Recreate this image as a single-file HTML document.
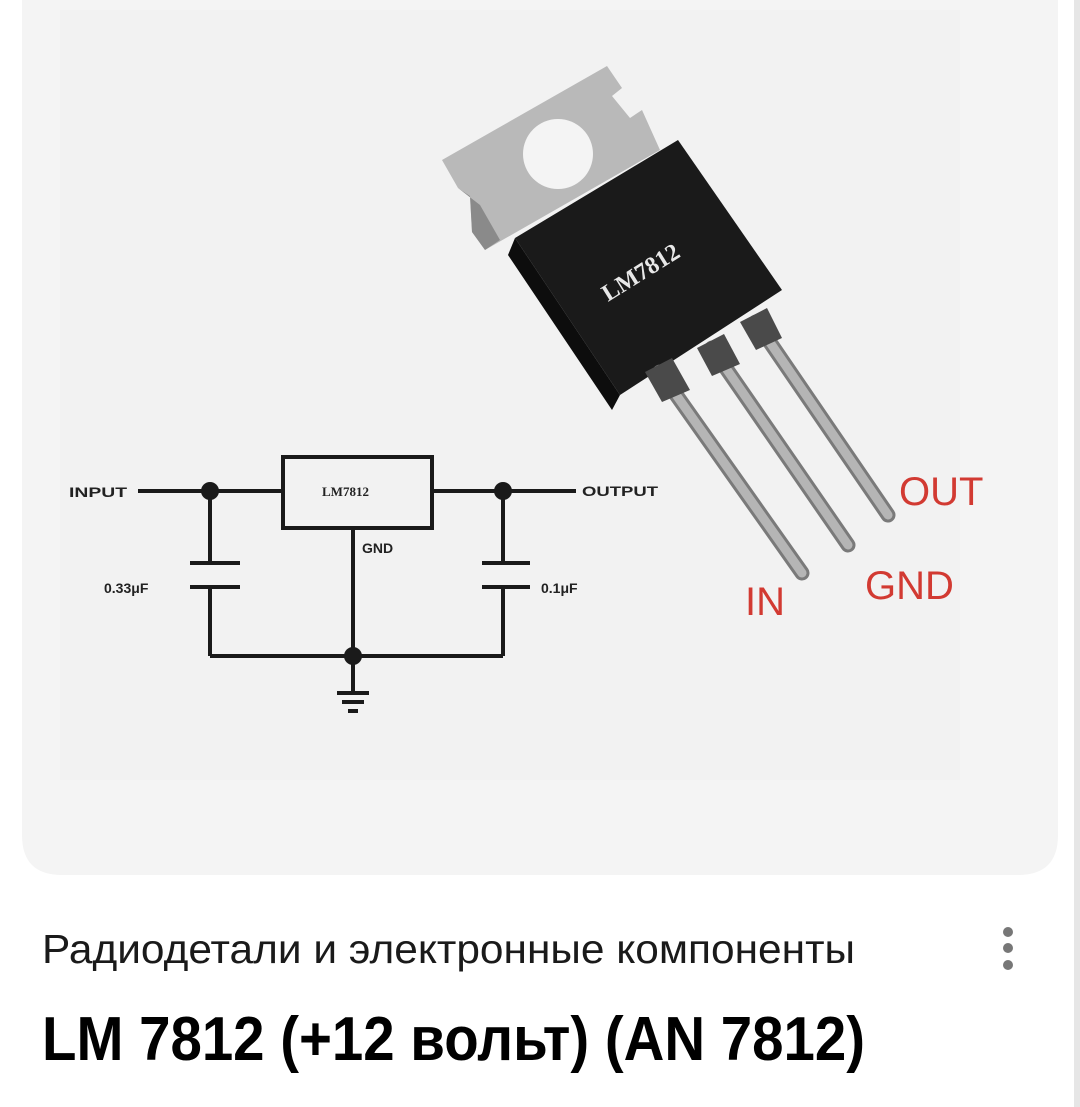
<!DOCTYPE html>
<html><head><meta charset="utf-8"><style>
html,body{margin:0;padding:0;background:#fff;width:1080px;height:1107px;overflow:hidden}
svg{display:block}
</style></head><body>
<svg width="1080" height="1107" viewBox="0 0 1080 1107" xmlns="http://www.w3.org/2000/svg">
<rect x="0" y="0" width="1080" height="1107" fill="#fff"/>
<rect x="1074" y="0" width="6" height="1107" fill="#e6e6e6"/>
<path d="M22 0 H1058 V835 Q1058 875 1018 875 H62 Q22 875 22 835 Z" fill="#f4f4f4"/>
<rect x="60" y="10" width="900" height="770" fill="#f2f2f2"/>

<polygon points="442,160 607,66 622,88 612,96 630,118 642,110 660,150 485,250 472,232 470,196 458,188" fill="#b9b9b9"/>
<polygon points="458,188 470,196 472,232 485,250 500,240 480,205" fill="#8a8a8a"/>
<circle cx="558" cy="154" r="35" fill="#f4f4f4"/>
<polygon points="515,238 678,140 782,290 620,395" fill="#1a1a1a"/>
<polygon points="515,238 620,395 612,410 508,255" fill="#0d0d0d"/>
<text x="0" y="0" transform="translate(608,302) rotate(-32)" font-family="Liberation Serif, serif" font-weight="bold" font-size="24" fill="#e8e8e8">LM7812</text>
<g stroke-linecap="round">
<line x1="660" y1="372" x2="802" y2="573" stroke="#7a7a7a" stroke-width="15"/>
<line x1="712" y1="348" x2="848" y2="545" stroke="#7a7a7a" stroke-width="15"/>
<line x1="756" y1="322" x2="888" y2="515" stroke="#7a7a7a" stroke-width="15"/>
<line x1="660" y1="372" x2="802" y2="573" stroke="#b5b5b5" stroke-width="9"/>
<line x1="712" y1="348" x2="848" y2="545" stroke="#b5b5b5" stroke-width="9"/>
<line x1="756" y1="322" x2="888" y2="515" stroke="#b5b5b5" stroke-width="9"/>
</g>
<polygon points="645,372 672,358 690,390 662,402" fill="#4a4a4a"/>
<polygon points="697,348 724,334 740,364 712,376" fill="#4a4a4a"/>
<polygon points="740,322 767,308 782,338 756,350" fill="#4a4a4a"/>
<g font-family="Liberation Sans, sans-serif" font-size="40" fill="#d23a32">
<text x="899" y="505">OUT</text>
<text x="865" y="599">GND</text>
<text x="745" y="615">IN</text>
</g>

<g stroke="#1a1a1a" stroke-width="4" fill="none">
<rect x="283" y="457" width="149" height="71"/>
<line x1="138" y1="491" x2="283" y2="491"/>
<line x1="432" y1="491" x2="576" y2="491"/>
<line x1="210" y1="491" x2="210" y2="563"/>
<line x1="190" y1="563" x2="240" y2="563"/>
<line x1="190" y1="587" x2="240" y2="587"/>
<line x1="210" y1="587" x2="210" y2="656"/>
<line x1="503" y1="491" x2="503" y2="563"/>
<line x1="482" y1="563" x2="530" y2="563"/>
<line x1="482" y1="587" x2="530" y2="587"/>
<line x1="503" y1="587" x2="503" y2="656"/>
<line x1="210" y1="656" x2="503" y2="656"/>
<line x1="353" y1="528" x2="353" y2="693"/>
<line x1="337" y1="693" x2="369" y2="693"/>
<line x1="342" y1="702" x2="364" y2="702"/>
<line x1="348" y1="711" x2="358" y2="711"/>
</g>
<g fill="#1a1a1a">
<circle cx="210" cy="491" r="9"/>
<circle cx="503" cy="491" r="9"/>
<circle cx="353" cy="656" r="9"/>
</g>
<g font-family="Liberation Sans, sans-serif" font-weight="bold" font-size="14" fill="#222">
<text x="69" y="497" textLength="58" lengthAdjust="spacingAndGlyphs">INPUT</text>
<text x="582" y="496" textLength="76" lengthAdjust="spacingAndGlyphs">OUTPUT</text>
<text x="362" y="553">GND</text>
<text x="104" y="593">0.33μF</text>
<text x="541" y="593">0.1μF</text>
</g>
<text x="322" y="496" font-family="Liberation Serif, serif" font-weight="bold" font-size="13" fill="#222">LM7812</text>

<text x="42" y="963" font-family="Liberation Sans, sans-serif" font-size="41" fill="#1a1a1a" textLength="813" lengthAdjust="spacingAndGlyphs">Радиодетали и электронные компоненты</text>
<text x="42" y="1060" font-family="Liberation Sans, sans-serif" font-weight="bold" font-size="62" fill="#000" textLength="823" lengthAdjust="spacingAndGlyphs">LM 7812 (+12 вольт) (AN 7812)</text>
<g fill="#777">
<circle cx="1008" cy="932" r="5"/>
<circle cx="1008" cy="948" r="5"/>
<circle cx="1008" cy="965" r="5"/>
</g>
</svg>
</body></html>
